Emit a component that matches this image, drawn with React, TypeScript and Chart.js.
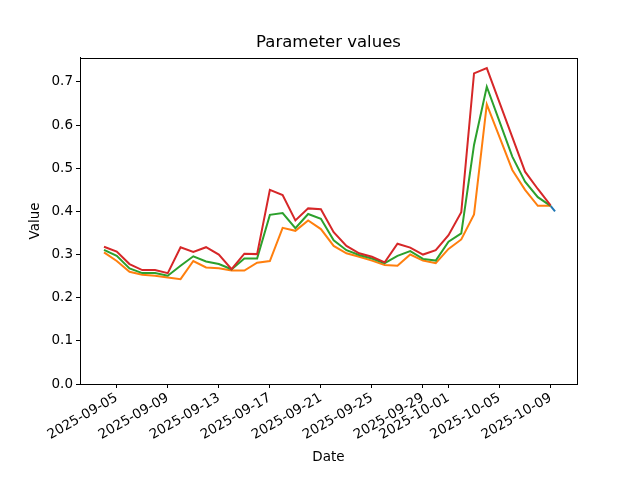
import React, { useEffect, useRef } from "react";
import { Chart, registerables } from "chart.js";

Chart.register(...registerables);

// day offsets from 2025-09-04
const startDate = Date.UTC(2025, 8, 4);
const days = Array.from({ length: 36 }, (_, i) => i);

const redValues = [
  0.318, 0.307, 0.278, 0.264, 0.264, 0.257, 0.317, 0.306, 0.317, 0.3, 0.266, 0.302,
  0.301, 0.45, 0.438, 0.379, 0.407, 0.405, 0.352, 0.32, 0.303, 0.295, 0.282, 0.325,
  0.316, 0.3, 0.31, 0.345, 0.398, 0.72, 0.732, 0.652, 0.572, 0.492, 0.452, 0.414,
];
const greenValues = [
  0.311, 0.297, 0.268, 0.257, 0.257, 0.251, 0.274, 0.296, 0.284, 0.278, 0.266, 0.291,
  0.291, 0.392, 0.396, 0.361, 0.394, 0.383, 0.333, 0.31, 0.299, 0.291, 0.28, 0.297,
  0.308, 0.29, 0.286, 0.33, 0.349, 0.554, 0.689, 0.608, 0.527, 0.469, 0.433, 0.413,
];
const orangeValues = [
  0.305, 0.285, 0.26, 0.253, 0.251, 0.247, 0.243, 0.285, 0.27, 0.268, 0.263, 0.263,
  0.281, 0.285, 0.362, 0.355, 0.379, 0.359, 0.32, 0.303, 0.295, 0.286, 0.276, 0.274,
  0.3, 0.286, 0.28, 0.313, 0.335, 0.393, 0.648, 0.572, 0.496, 0.45, 0.413, 0.413,
];
const blueDays = [35, 35.35];
const blueValues = [0.413, 0.4];

const xTickDays = [1, 5, 9, 13, 17, 21, 25, 27, 31, 35];
const yTicks = [0, 0.1, 0.2, 0.3, 0.4, 0.5, 0.6, 0.7];

const FONT = "'DejaVu Sans', sans-serif";

const fmtDate = (d: number) => {
  const dt = new Date(startDate + d * 86400000);
  const mm = String(dt.getUTCMonth() + 1).padStart(2, "0");
  const dd = String(dt.getUTCDate()).padStart(2, "0");
  return `${dt.getUTCFullYear()}-${mm}-${dd}`;
};

const toPoints = (xs: number[], ys: number[]) => xs.map((x, i) => ({ x, y: ys[i] }));

// matplotlib style frame around the plot area
const framePlugin = {
  id: "frame",
  afterDraw(chart: Chart) {
    const { ctx, chartArea } = chart;
    ctx.save();
    ctx.strokeStyle = "#000";
    ctx.lineWidth = 1;
    ctx.strokeRect(
      Math.round(chartArea.left) + 0.5,
      Math.round(chartArea.top) + 0.5,
      Math.round(chartArea.right - chartArea.left),
      Math.round(chartArea.bottom - chartArea.top)
    );
    ctx.restore();
  },
};

const App: React.FC = () => {
  const canvasRef = useRef<HTMLCanvasElement | null>(null);

  useEffect(() => {
    document.body.style.margin = "0";
    const ctx = canvasRef.current?.getContext("2d");
    if (!ctx) return;

    const line = (label: string, color: string, data: any, order: number) => ({
      label,
      data,
      borderColor: color,
      backgroundColor: color,
      borderWidth: 2,
      pointRadius: 0,
      tension: 0,
      order,
    });

    const chart = new Chart(ctx, {
      type: "line",
      data: {
        datasets: [
          line("red", "#d62728", toPoints(days, redValues), 0),
          line("green", "#2ca02c", toPoints(days, greenValues), 1),
          line("orange", "#ff7f0e", toPoints(days, orangeValues), 2),
          line("blue", "#1f77b4", toPoints(blueDays, blueValues), 3),
        ],
      },
      options: {
        animation: false,
        responsive: true,
        maintainAspectRatio: false,
        layout: { padding: { left: 0, right: 63, top: 0, bottom: 0 } },
        plugins: {
          legend: { display: false },
          tooltip: { enabled: false },
          title: {
            display: true,
            text: "Parameter values",
            color: "#000",
            fullSize: false,
            font: { family: FONT, size: 16.5, weight: "normal" },
            padding: { top: 33, bottom: 5 },
          },
        },
        scales: {
          x: {
            type: "linear",
            min: -1.88,
            max: 37.07,
            afterBuildTicks: (scale: any) => {
              scale.ticks = xTickDays.map((v) => ({ value: v }));
            },
            afterFit: (scale: any) => {
              scale.height = 96;
            },
            ticks: {
              autoSkip: false,
              minRotation: 30,
              maxRotation: 30,
              padding: 2,
              color: "#000",
              font: { family: FONT, size: 13.5 },
              callback: (v: any) => fmtDate(Number(v)),
            },
            grid: {
              drawOnChartArea: false,
              drawTicks: true,
              tickLength: 4,
              color: "#000",
            },
            border: { display: true, color: "#000", width: 1 },
            title: {
              display: true,
              text: "Date",
              color: "#000",
              font: { family: FONT, size: 13.5 },
              padding: { top: 0, bottom: 14 },
            },
          },
          y: {
            type: "linear",
            min: 0,
            max: 0.756,
            afterBuildTicks: (scale: any) => {
              scale.ticks = yTicks.map((v) => ({ value: v }));
            },
            afterFit: (scale: any) => {
              scale.width = 80;
            },
            ticks: {
              padding: 3,
              color: "#000",
              font: { family: FONT, size: 13.5 },
              callback: (v: any) => Number(v).toFixed(1),
            },
            grid: {
              drawOnChartArea: false,
              drawTicks: true,
              tickLength: 4,
              color: "#000",
            },
            border: { display: true, color: "#000", width: 1 },
            title: {
              display: true,
              text: "Value",
              color: "#000",
              font: { family: FONT, size: 13.5 },
              padding: { top: 27, bottom: 0 },
            },
          },
        },
      },
      plugins: [framePlugin],
    });

    return () => {
      chart.destroy();
    };
  }, []);

  return (
    <div style={{ position: "absolute", left: 0, top: 0, width: 640, height: 480, background: "#fff" }}>
      <canvas ref={canvasRef}></canvas>
    </div>
  );
};

export default App;
